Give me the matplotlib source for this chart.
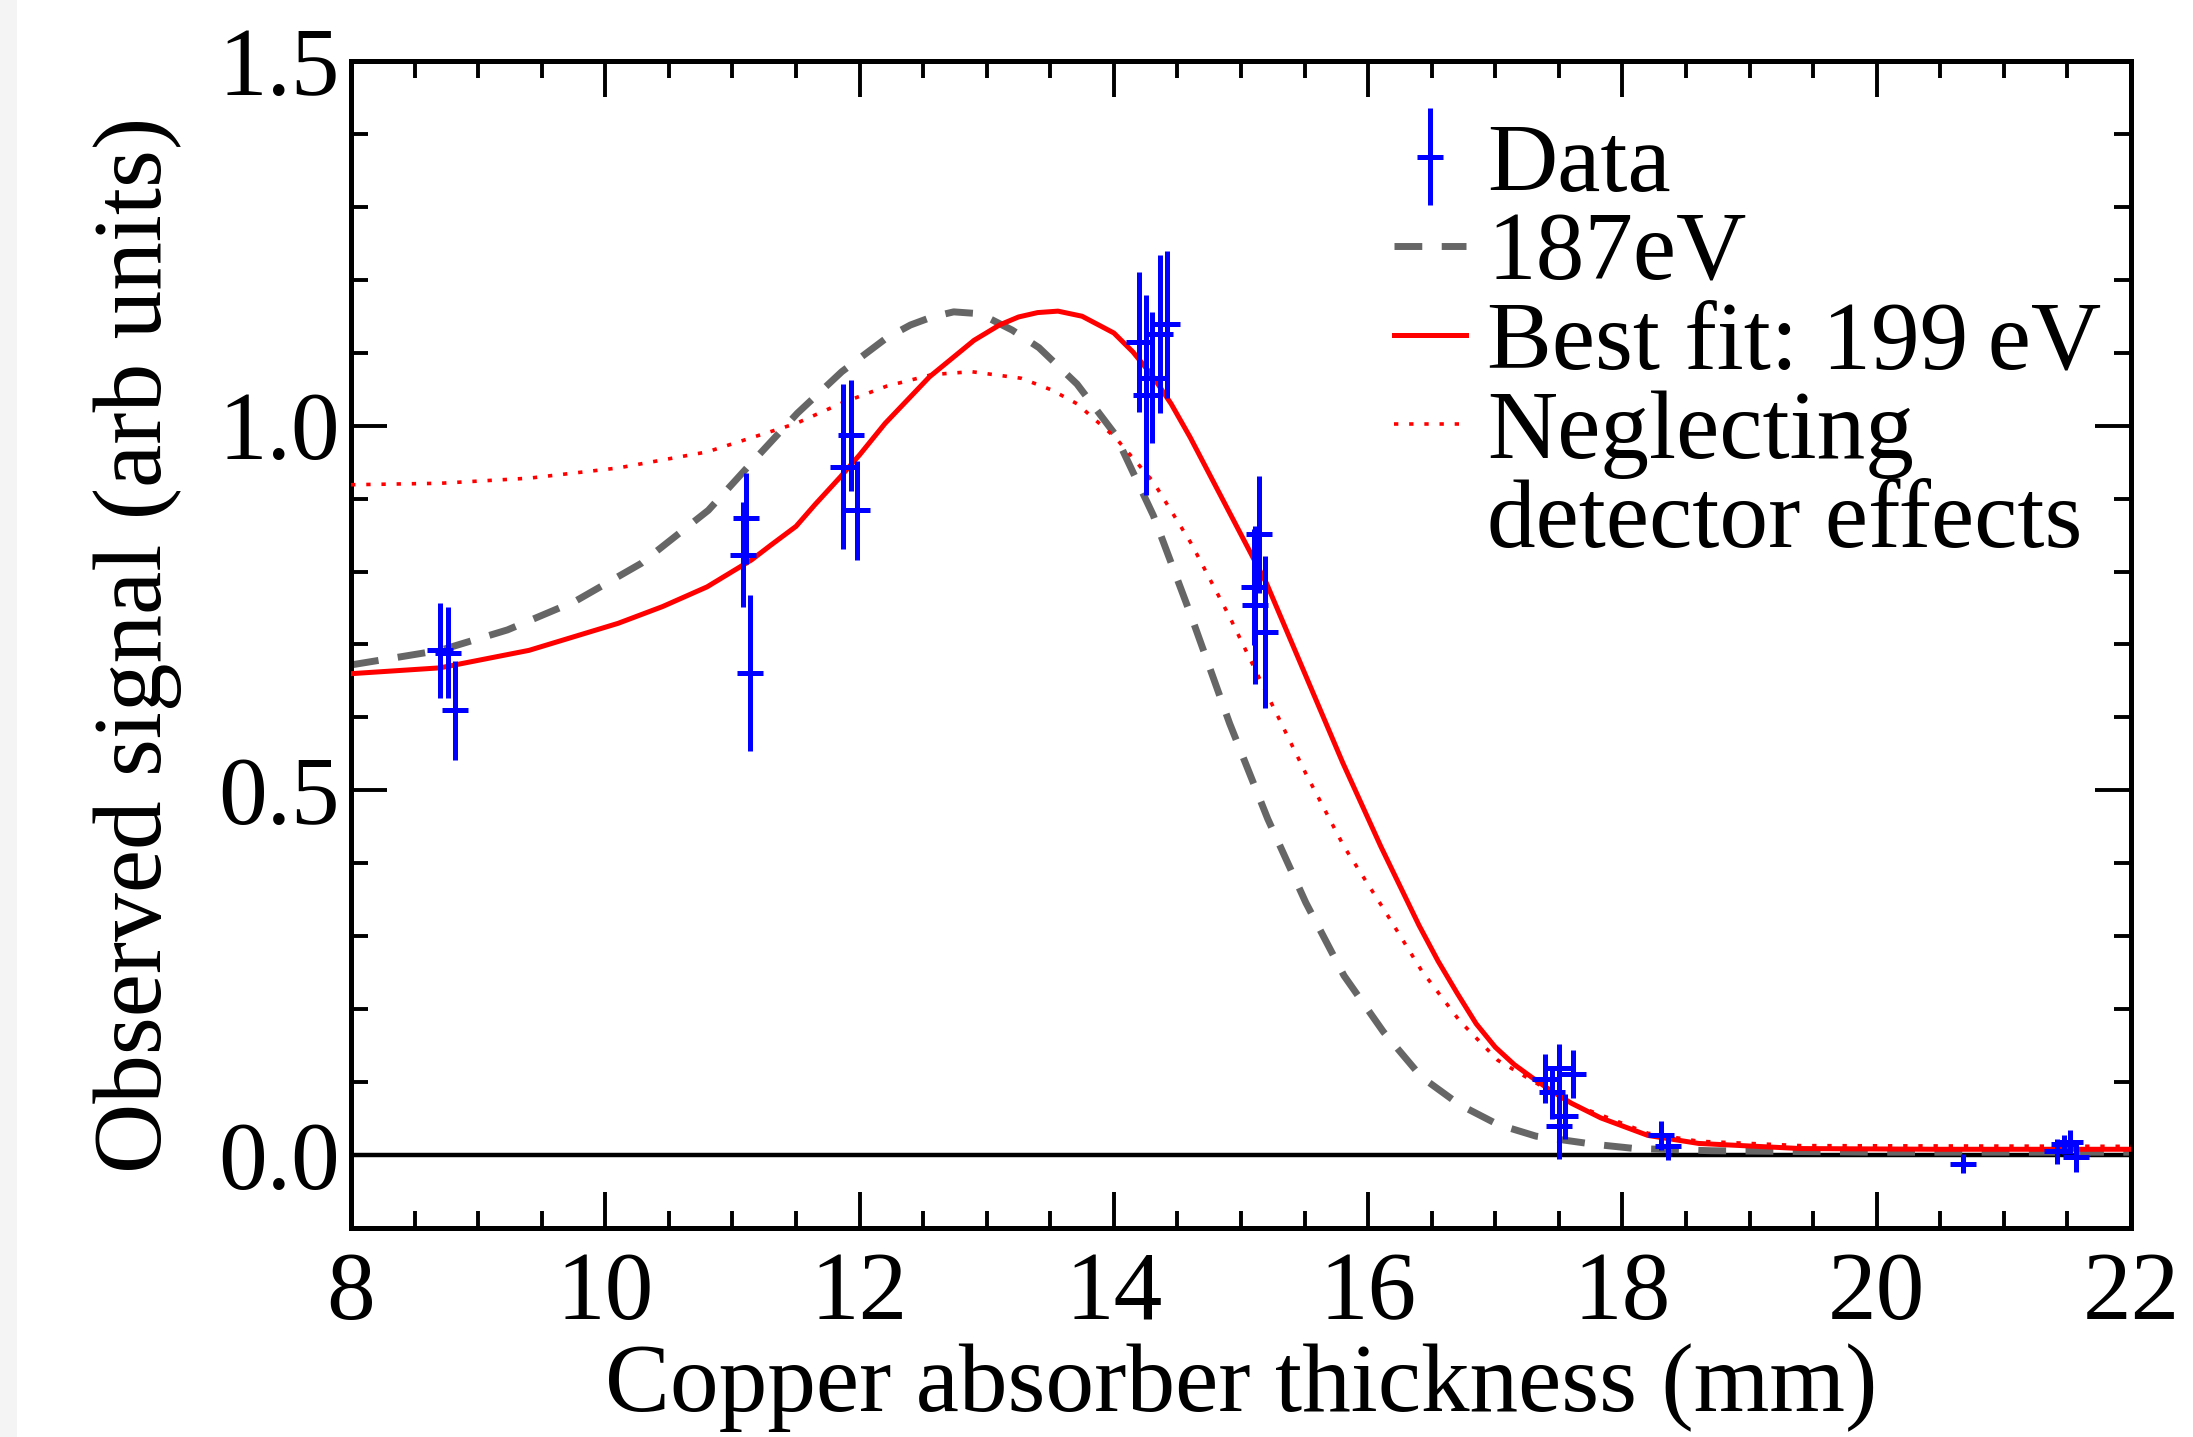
import numpy as np
import matplotlib
matplotlib.use('Agg')
import matplotlib.pyplot as plt
from matplotlib.lines import Line2D
from matplotlib.patches import Rectangle
from matplotlib.ticker import MultipleLocator

plt.rcParams['font.family'] = ['Liberation Serif', 'DejaVu Serif']

# data points: thickness (mm), signal, error
data_x = [8.70, 8.76, 8.82, 11.08, 11.11, 11.14, 11.87, 11.93, 11.98,
          14.20, 14.25, 14.30, 14.36, 14.42, 15.14, 15.10, 15.11, 15.19,
          17.39, 17.45, 17.50, 17.50, 17.55, 17.61, 18.30, 18.36,
          20.68, 21.42, 21.47, 21.52, 21.57]
data_y = [0.692, 0.689, 0.610, 0.823, 0.873, 0.661, 0.944, 0.987, 0.884,
          1.115, 1.042, 1.066, 1.126, 1.139, 0.851, 0.779, 0.754, 0.717,
          0.105, 0.086, 0.119, 0.040, 0.053, 0.111, 0.027, 0.012,
          -0.012, 0.005, 0.015, 0.018, -0.002]
data_err = [0.065, 0.062, 0.068, 0.072, 0.062, 0.107, 0.113, 0.076, 0.068,
            0.096, 0.137, 0.090, 0.108, 0.101, 0.080, 0.080, 0.108, 0.104,
            0.033, 0.036, 0.034, 0.046, 0.031, 0.033, 0.020, 0.019,
            0.013, 0.017, 0.013, 0.016, 0.021]

# 187 eV curve
ev187_x = [8.0, 8.7, 9.23, 9.76, 10.28, 10.81, 11.16, 11.51, 11.86, 12.21,
           12.4, 12.57, 12.74, 12.9, 13.02, 13.2, 13.41, 13.71, 14.01, 14.31,
           14.61, 14.91, 15.21, 15.51, 15.81, 16.12, 16.42, 16.72, 17.02, 17.32,
           17.77, 18.1, 18.7, 20.0, 22.0]
ev187_y = [0.672, 0.692, 0.720, 0.759, 0.811, 0.884, 0.951, 1.017, 1.074, 1.120,
           1.138, 1.149, 1.156, 1.154, 1.147, 1.131, 1.107, 1.057, 0.988, 0.877,
           0.738, 0.592, 0.461, 0.346, 0.246, 0.169, 0.107, 0.069, 0.042, 0.026,
           0.015, 0.009, 0.006, 0.004, 0.004]

# best fit 199 eV
fit_x = [8.0, 8.7, 9.4, 10.1, 10.45, 10.8, 11.15, 11.3, 11.5, 11.65, 11.85,
         12.0, 12.2, 12.55, 12.9, 13.1, 13.25, 13.4, 13.56, 13.75, 14.0, 14.15,
         14.3, 14.45, 14.6, 14.9, 15.2, 15.5, 15.8, 16.1, 16.4, 16.55, 16.7,
         16.85, 17.0, 17.15, 17.3, 17.45, 17.6, 17.83, 18.2, 18.6, 19.4, 20.5, 22.0]
fit_y = [0.660, 0.668, 0.692, 0.729, 0.752, 0.779, 0.816, 0.836, 0.862, 0.892, 0.930,
         0.960, 1.003, 1.067, 1.117, 1.138, 1.149, 1.155, 1.157, 1.150, 1.127, 1.101,
         1.069, 1.030, 0.984, 0.884, 0.784, 0.661, 0.538, 0.423, 0.315, 0.266, 0.222,
         0.180, 0.148, 0.124, 0.105, 0.087, 0.071, 0.051, 0.027, 0.016, 0.009, 0.008, 0.008]

# neglecting detector effects
nodet_x = [8.0, 8.7, 9.4, 10.1, 10.8, 11.5, 11.86, 12.21, 12.57, 12.88, 13.27,
           13.51, 13.71, 14.01, 14.31, 14.61, 14.91, 15.21, 15.51, 15.81, 16.12,
           16.42, 16.72, 17.02, 17.32, 17.62, 17.83, 18.2, 18.6, 19.4, 22.0]
nodet_y = [0.919, 0.921, 0.928, 0.942, 0.964, 1.003, 1.031, 1.054, 1.070, 1.074, 1.065,
           1.049, 1.030, 0.984, 0.923, 0.838, 0.738, 0.630, 0.523, 0.423, 0.338,
           0.253, 0.184, 0.130, 0.099, 0.069, 0.055, 0.030, 0.019, 0.013, 0.012]

FS = 70
fig = plt.figure(figsize=(21.93, 14.37), dpi=100)
fig.patch.set_facecolor('white')
fig.patches.append(Rectangle((0, 0), 17 / 2193, 1, transform=fig.transFigure,
                             facecolor='#f4f4f4', edgecolor='none', zorder=-10))

ax = fig.add_axes([0.1601, 0.1454, 0.9717 - 0.1601, 0.9576 - 0.1454])

ax.axhline(0, color='black', lw=3.2, zorder=1)

l187, = ax.plot(ev187_x, ev187_y, color='#666666', lw=5, dashes=(4, 2.8), zorder=2)
lnod, = ax.plot(nodet_x, nodet_y, color='red', lw=2.6, dashes=(1.2, 3.0), zorder=3)
lfit, = ax.plot(fit_x, fit_y, color='red', lw=3.6, zorder=4)

eb = ax.errorbar(data_x, data_y, yerr=data_err, fmt='_', color='blue',
                 ecolor='blue', elinewidth=3.6, markersize=19, mew=3.6,
                 capsize=0, zorder=5)

ax.set_xlim(8, 22)
ax.set_ylim(-0.1, 1.5)
ax.xaxis.set_minor_locator(MultipleLocator(0.5))
ax.yaxis.set_minor_locator(MultipleLocator(0.1))
ax.set_xticks([8, 10, 12, 14, 16, 18, 20, 22])
ax.set_xticklabels(['8', '10', '12', '14', '16', '18', '20', '22'])
ax.set_yticks([0.0, 0.5, 1.0, 1.5])
ax.set_yticklabels(['0.0', '0.5', '1.0', '1.5'])

ax.tick_params(which='both', direction='in', top=True, right=True,
               labelsize=FS, width=2.8, color='black')
ax.tick_params(which='major', length=26)
ax.tick_params(which='minor', length=12)
ax.tick_params(axis='x', which='major', pad=17)
ax.tick_params(axis='y', which='major', pad=8)
for s in ax.spines.values():
    s.set_linewidth(3.6)

ax.set_xlabel('Copper absorber thickness (mm)', fontsize=FS, labelpad=2)
ax.set_ylabel('Observed signal (arb units)', fontsize=FS, labelpad=26)

blank = Line2D([], [], linestyle='none')
ax.legend([eb, l187, lfit, lnod, blank],
          ['Data', '187eV', 'Best fit: 199\u2009eV', 'Neglecting', 'detector effects'],
          loc='upper left', bbox_to_anchor=(0.586, 0.947), frameon=False,
          fontsize=FS, handlelength=0.74, handletextpad=0.22,
          labelspacing=0.0, borderpad=0, borderaxespad=0)

fig.savefig('out.png', dpi=100, facecolor='white')
